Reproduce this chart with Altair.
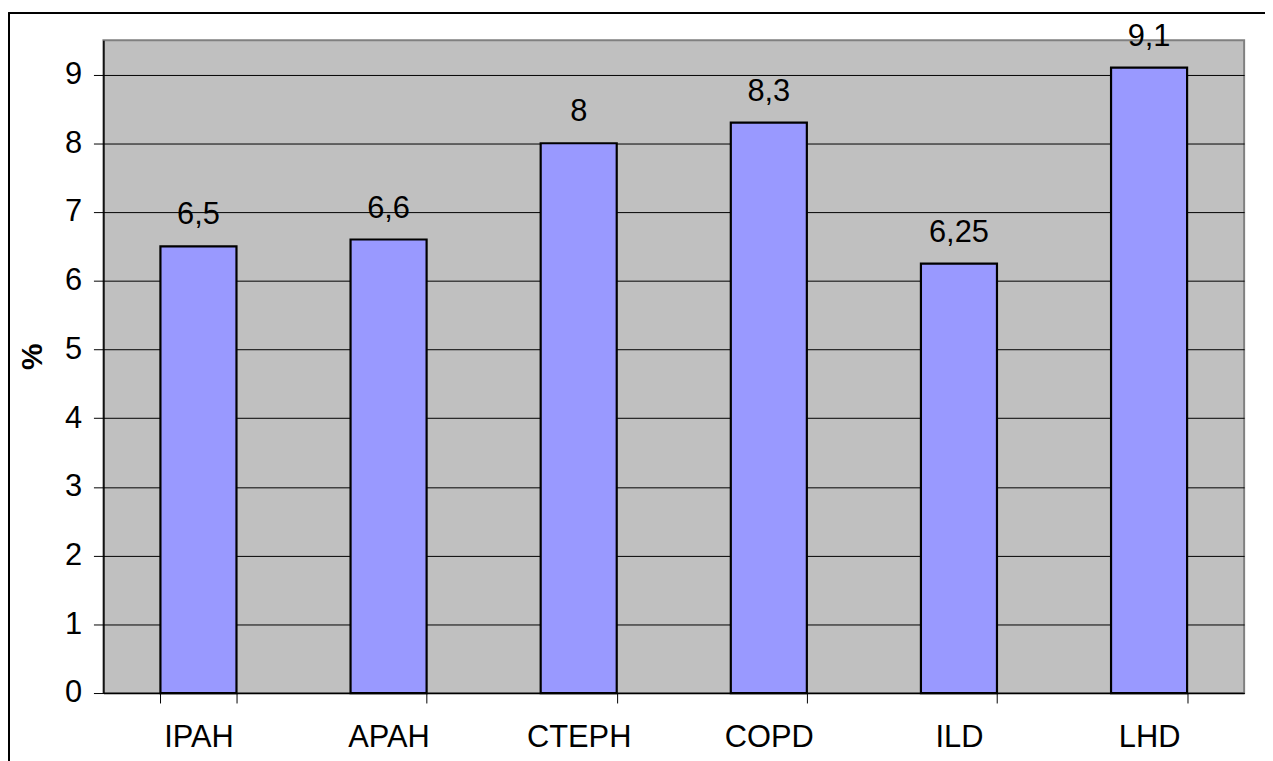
import altair as alt
import pandas as pd

categories = ["IPAH", "APAH", "CTEPH", "COPD", "ILD", "LHD"]
values = [6.5, 6.6, 8.0, 8.3, 6.25, 9.1]
labels = ["6,5", "6,6", "8", "8,3", "6,25", "9,1"]

df = pd.DataFrame({"cat": categories, "val": values, "lab": labels})

FONT = "Liberation Sans"
FS = 31

x = alt.X("cat:N", sort=categories, title=None,
          scale=alt.Scale(paddingInner=0.6, paddingOuter=0.3),
          axis=alt.Axis(labelAngle=0, labelFont=FONT, labelFontSize=FS, labelColor="black",
                        labelPadding=20, tickBand="extent", tickSize=10, tickColor="black",
                        tickWidth=1, domainColor="black", domainWidth=1.5, grid=False))
y = alt.Y("val:Q", title="%",
          scale=alt.Scale(domain=[0, 9.5], nice=False),
          axis=alt.Axis(values=list(range(10)), format="d", labelFont=FONT, labelFontSize=FS,
                        labelColor="black", labelPadding=12, tickSize=10, tickColor="black",
                        domainColor="black", domainWidth=1.5,
                        grid=True, gridColor="black", gridWidth=1,
                        titleFont=FONT, titleFontSize=30, titleFontWeight="bold",
                        titleColor="black", titleX=-56, titleY=318, titleAngle=270,
                        titleAlign="center", titleBaseline="bottom"))

bars = alt.Chart(df).mark_bar(color="#9999FF", stroke="black", strokeWidth=2.2).encode(x=x, y=y)
text = alt.Chart(df).mark_text(baseline="alphabetic", dy=-22, font=FONT, fontSize=FS,
                               color="black").encode(x=alt.X("cat:N", sort=categories),
                                                     y="val:Q", text="lab:N")
frame = alt.Chart(df).mark_rect(filled=False, stroke="black", strokeWidth=1.5).encode(
    x=alt.value(-95), x2=alt.value(1300), y=alt.value(-27), y2=alt.value(800))

chart = alt.layer(bars, text, frame).properties(
    width=1148, height=657,
    autosize=alt.AutoSizeParams(type="none"),
    padding={"left": 96, "top": 30, "right": 21, "bottom": 66},
).configure_view(fill="#C0C0C0", stroke="#808080", strokeWidth=2)

chart.save("out.html", embed_options={"renderer": "svg", "actions": False})
